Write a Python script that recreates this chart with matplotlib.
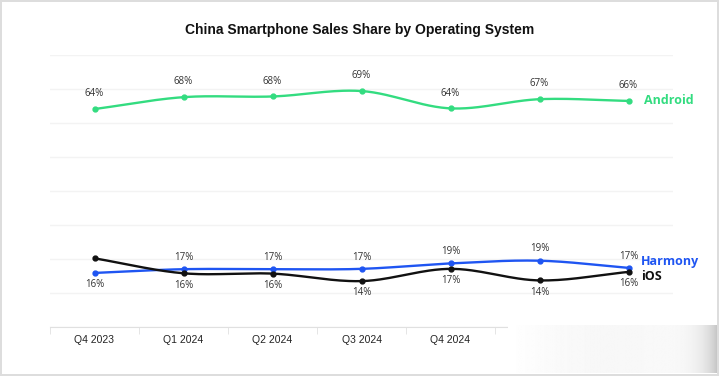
import numpy as np
import matplotlib.pyplot as plt

quarters = ['Q4 2023', 'Q1 2024', 'Q2 2024', 'Q3 2024', 'Q4 2024', 'Q1 2025', 'Q2 2025']
android = [64.1, 67.6, 67.8, 69.4, 64.3, 67.0, 66.5]
harmony = [15.9, 17.0, 17.0, 17.1, 18.7, 19.5, 17.4]
ios = [20.2, 15.8, 15.7, 13.5, 17.1, 13.7, 16.2]

android_lbl = ['64%', '68%', '68%', '69%', '64%', '67%', '66%']
harmony_lbl = ['', '17%', '17%', '17%', '19%', '19%', '17%']
ios_lbl = ['16%', '16%', '16%', '14%', '17%', '14%', '16%']

GREEN = '#33dc80'
BLUE = '#1f55f2'
BLACK = '#111111'


def smooth(x, y, steps=30):
    # catmull-rom through the points, only for drawing the curve
    x = np.asarray(x, float)
    y = np.asarray(y, float)
    px = np.concatenate([[2 * x[0] - x[1]], x, [2 * x[-1] - x[-2]]])
    py = np.concatenate([[2 * y[0] - y[1]], y, [2 * y[-1] - y[-2]]])
    xs, ys = [], []
    t = np.linspace(0, 1, steps)
    for i in range(1, len(px) - 2):
        for p, out in ((px, xs), (py, ys)):
            p0, p1, p2, p3 = p[i - 1], p[i], p[i + 1], p[i + 2]
            out.append(0.5 * (2 * p1 + (-p0 + p2) * t
                              + (2 * p0 - 5 * p1 + 4 * p2 - p3) * t ** 2
                              + (-p0 + 3 * p1 - 3 * p2 + p3) * t ** 3))
    return np.concatenate(xs), np.concatenate(ys)


fig = plt.figure(figsize=(7.19, 3.76), dpi=100)
fig.patch.set_edgecolor('#dddddd')
fig.patch.set_linewidth(1.5)
ax = fig.add_axes([50 / 719, 1 - 327 / 376, 623 / 719, 272 / 376])

x = np.arange(len(quarters))
series = [(android, GREEN), (harmony, BLUE), (ios, BLACK)]
for vals, col in series:
    sx, sy = smooth(x, vals)
    ax.plot(sx, sy, color=col, lw=1.7, zorder=3)
    ax.plot(x, vals, 'o', color=col, ms=3.5, zorder=4)

lblfont = dict(fontsize=7, color='#333333', family='Open Sans', ha='center', va='center')
for i in x:
    ax.annotate(android_lbl[i], (i, android[i]), xytext=(0, 11), textcoords='offset points', **lblfont)
    if harmony_lbl[i]:
        ax.annotate(harmony_lbl[i], (i, harmony[i]), xytext=(0, 8.5), textcoords='offset points', **lblfont)
    # first "16%" sits under the Harmony point
    base = harmony[i] if i == 0 else ios[i]
    ax.annotate(ios_lbl[i], (i, base), xytext=(0, -8.5), textcoords='offset points', **lblfont)

last = len(quarters) - 1
namefont = dict(fontsize=9, fontweight='bold', family='Open Sans', ha='left', va='center')
ax.annotate('Android', (last, android[last]), xytext=(11, 0), textcoords='offset points',
            color=GREEN, **namefont)
ax.annotate('Harmony', (last, harmony[last]), xytext=(9, 4.5), textcoords='offset points',
            color=BLUE, **namefont)
ax.annotate('iOS', (last, ios[last]), xytext=(9, -3), textcoords='offset points',
            color=BLACK, **namefont)

ax.set_xlim(-0.5, len(quarters) - 0.5)
ax.set_ylim(0, 80)
ax.set_yticks(np.arange(0, 81, 10))
ax.yaxis.grid(True, color='#f3f3f3', lw=1)
ax.tick_params(axis='y', left=False, labelleft=False)
ax.set_xticks(x)
ax.set_xticklabels(quarters, fontsize=7.5, family='Liberation Sans', color='#222222')
ax.set_xticks(np.arange(-0.5, len(quarters)), minor=True)
ax.tick_params(axis='x', which='major', length=0, pad=6)
ax.tick_params(axis='x', which='minor', length=5, color='#e0e0e0')
for s in ['top', 'right', 'left']:
    ax.spines[s].set_visible(False)
ax.spines['bottom'].set_color('#e0e0e0')
ax.set_axisbelow(True)

fig.text(0.5, 1 - 30 / 376, 'China Smartphone Sales Share by Operating System', ha='center', va='center',
         fontsize=10, fontweight='bold', family='Liberation Sans', color='#111111')

# faded overlay at the bottom right corner of the screenshot
ov = fig.add_axes([508 / 719, 3 / 376, 209 / 719, 48 / 376])
t = np.linspace(0, 1, 300)
grad = 1 - 0.03 * np.sin(np.pi * t) - 0.22 * t ** 14
grad = np.tile(grad, (20, 1))
ov.imshow(grad, cmap='gray', vmin=0, vmax=1, aspect='auto', extent=[0, 1, 0, 1])
ov.set_axis_off()

fig.savefig('out.png', dpi=100)
